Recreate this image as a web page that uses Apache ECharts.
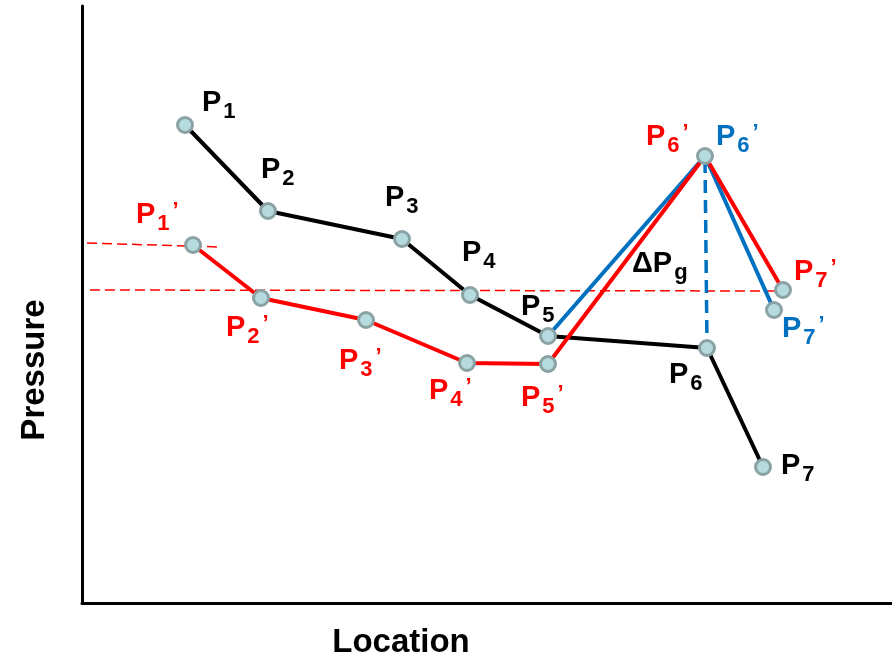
<!DOCTYPE html>
<html>
<head>
<meta charset="utf-8">
<script src="https://cdn.jsdelivr.net/npm/echarts@6/dist/echarts.min.js"></script>
<style>html,body{margin:0;padding:0;background:#fff}#c{width:892px;height:659px}</style>
</head>
<body>
<div id="c"></div>
<script>
// Location (x) and pressure (y) in arbitrary units
const blackX = [103, 186, 320, 388, 466, 625, 681];
const blackY = [478, 392, 364, 308, 267, 255, 136];
const redX = [111, 179, 284, 385, 466, 623, 701];
const redY = [358, 305, 283, 240, 239, 447, 313];
const blueX = [466, 623, 692];
const blueY = [267, 447, 293];
const ref1X = [5, 138];
const ref1Y = [360, 356];
const ref2X = [8, 701];
const ref2Y = [313, 312];
const gravX = [623, 625];
const gravY = [443, 258];

// Annotation labels
const blackLabelSubs = ['1', '2', '3', '4', '5', '6', '7'];
const blackLabelX = [120, 179, 303, 380, 439, 587, 699];
const blackLabelY = [500, 433, 405, 350, 296, 228, 137];
const redLabelSubs = ['1', '2', '3', '4', '5', '6', '7'];
const redLabelX = [54, 144, 257, 347, 439, 564, 712];
const redLabelY = [388, 275, 242, 212, 205, 466, 331];
const blueLabelSubs = ['6', '7'];
const blueLabelX = [634, 700];
const blueLabelY = [466, 274];
const dpLabel = ['ΔP', 'g'];
const dpLabelX = [550];
const dpLabelY = [339];

const FONT = 'Liberation Sans, Arial, sans-serif';
const BLACK = '#000000', RED = '#ff0000', BLUE = '#0070c0';

function pts(xs, ys) { return xs.map((x, i) => [x, ys[i]]); }

const labelData = [];
blackLabelSubs.forEach((s, i) => labelData.push({
  value: [blackLabelX[i], blackLabelY[i]], txt: '{p|P}{s|' + s + '}', color: BLACK }));
redLabelSubs.forEach((s, i) => labelData.push({
  value: [redLabelX[i], redLabelY[i]], txt: '{p|P}{s|' + s + '}{q|’}', color: RED }));
blueLabelSubs.forEach((s, i) => labelData.push({
  value: [blueLabelX[i], blueLabelY[i]], txt: '{p|P}{s|' + s + '}{q|’}', color: BLUE }));
labelData.push({ value: [dpLabelX[0], dpLabelY[0]], txt: '{p|' + dpLabel[0] + '}{s|' + dpLabel[1] + '}', color: BLACK });

const labelSeriesData = labelData.map(d => ({
  value: d.value,
  label: { formatter: d.txt, color: d.color, opacity: 1,
    rich: {
      p: { fontSize: 29, fontWeight: 'bold', fontFamily: FONT, color: d.color },
      s: { fontSize: 22, fontWeight: 'bold', fontFamily: FONT, color: d.color, padding: [17, 0, 0, 2] },
      q: { fontSize: 22, fontWeight: 'bold', fontFamily: FONT, color: d.color, padding: [0, 0, 8, 3] }
    } }
}));

const markerData = pts(blackX, blackY).concat(pts(redX, redY)).concat([[blueX[2], blueY[2]]]);

const chart = echarts.init(document.getElementById('c'));
chart.setOption({
  animation: false,
  backgroundColor: '#ffffff',
  grid: { left: 82, right: 0, top: 6, bottom: 56 },
  xAxis: { type: 'value', min: 0, max: 810,
    axisLine: { show: true, lineStyle: { color: '#000', width: 3 } },
    axisTick: { show: false }, axisLabel: { show: false }, splitLine: { show: false } },
  yAxis: { type: 'value', min: 0, max: 597,
    axisLine: { show: true, lineStyle: { color: '#000', width: 3 } },
    axisTick: { show: false }, axisLabel: { show: false }, splitLine: { show: false } },
  graphic: [
    { type: 'text', x: 401, y: 643, style: { text: 'Location', font: 'bold 33px ' + FONT, fill: '#000', textAlign: 'center', textVerticalAlign: 'middle' } },
    { type: 'text', x: 35, y: 370, rotation: Math.PI / 2, style: { text: 'Pressure', font: 'bold 33px ' + FONT, fill: '#000', textAlign: 'center', textVerticalAlign: 'middle' } }
  ],
  series: [
    { type: 'line', data: pts(ref1X, ref1Y), symbol: 'none', z: 2,
      lineStyle: { color: RED, width: 1.5, type: [10, 5] } },
    { type: 'line', data: pts(ref2X, ref2Y), symbol: 'none', z: 2,
      lineStyle: { color: RED, width: 1.5, type: [10, 5] } },
    { type: 'line', data: pts(gravX, gravY), symbol: 'none', z: 2,
      lineStyle: { color: BLUE, width: 3.5, type: [13, 7] } },
    { type: 'line', data: pts(blackX, blackY), symbol: 'none', z: 3,
      lineStyle: { color: BLACK, width: 4 } },
    { type: 'line', data: pts(blueX, blueY), symbol: 'none', z: 4,
      lineStyle: { color: BLUE, width: 4 } },
    { type: 'line', data: pts(redX, redY), symbol: 'none', z: 5,
      lineStyle: { color: RED, width: 4 } },
    { type: 'scatter', data: markerData, symbol: 'circle', symbolSize: 15, z: 6,
      itemStyle: { color: '#b5dbde', borderColor: '#8ba2a4', borderWidth: 3, opacity: 1 } },
    { type: 'scatter', data: labelSeriesData, symbolSize: 0, z: 7, silent: true,
      itemStyle: { opacity: 1 },
      label: { show: true, position: 'right', distance: 0 } }
  ]
});
</script>
</body>
</html>
